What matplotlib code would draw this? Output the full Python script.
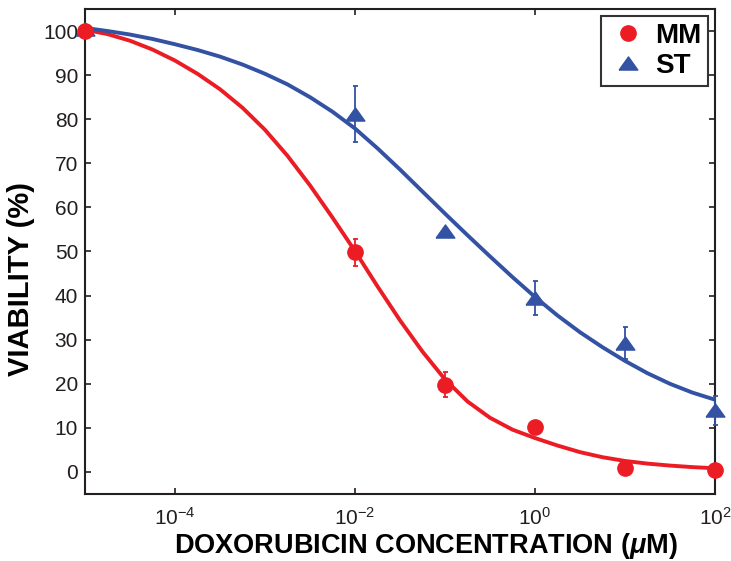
"""Dose-response of MM and ST cells to doxorubicin: viability vs concentration."""

import matplotlib
matplotlib.use("Agg")
import matplotlib.pyplot as plt
from matplotlib.lines import Line2D
from matplotlib.ticker import FixedLocator, LogFormatterMathtext, NullLocator

RED = "#EC1C24"
BLUE = "#3352A4"
# flat triangle, wider than tall like the original marker
TRI = [(-1.0, -0.7), (1.0, -0.7), (0.0, 0.7), (-1.0, -0.7)]

# measured points (uM, % viability, error)
CONC = [1e-5, 1e-2, 1e-1, 1e0, 1e1, 1e2]
MM_VIAB = [100.0, 49.8, 19.8, 10.2, 0.9, 0.5]
MM_ERR = [0.0, 3.0, 2.9, 0.0, 0.0, 0.0]
ST_VIAB = [100.5, 81.2, 54.7, 39.5, 29.3, 14.0]
ST_ERR = [0.0, 6.4, 0.0, 3.8, 3.6, 3.3]

# fitted curves at quarter-decade steps
CURVE_LOG10_CONC = [-5.0, -4.75, -4.5, -4.25, -4.0, -3.75, -3.5, -3.25, -3.0,
                    -2.75, -2.5, -2.25, -2.0, -1.75, -1.5, -1.25, -1.0, -0.75,
                    -0.5, -0.25, 0.0, 0.25, 0.5, 0.75, 1.0, 1.25, 1.5, 1.75, 2.0]
MM_FIT = [100.3, 99.3, 97.8, 95.8, 93.3, 90.3, 86.8, 82.6, 77.6, 71.7, 65.0,
          57.7, 50.1, 42.1, 34.4, 27.3, 21.0, 16.0, 12.3, 9.6, 7.7, 6.0, 4.5,
          3.35, 2.5, 1.9, 1.45, 1.1, 0.85]
ST_FIT = [100.7, 100.0, 99.2, 98.2, 97.0, 95.7, 94.2, 92.4, 90.3, 87.9, 85.0,
          81.7, 77.9, 73.4, 68.6, 63.6, 58.6, 53.7, 48.9, 44.2, 39.7, 35.5,
          31.7, 28.3, 25.2, 22.4, 20.0, 18.0, 16.4]

XTICKS = [1e-4, 1e-2, 1e0, 1e2]
YTICKS = list(range(0, 101, 10))

plt.rcParams["font.family"] = ["Liberation Sans", "DejaVu Sans"]
plt.rcParams["mathtext.fontset"] = "custom"
plt.rcParams["mathtext.rm"] = "Liberation Sans"
plt.rcParams["mathtext.it"] = "Liberation Sans:italic"
plt.rcParams["mathtext.bf"] = "Liberation Sans:bold"
plt.rcParams["mathtext.bfit"] = "Liberation Sans:bold:italic"

fig = plt.figure(figsize=(7.31, 5.61), dpi=100)
ax = fig.add_axes([0.1163, 0.1194, 0.8617, 0.8646])

curve_x = [10 ** v for v in CURVE_LOG10_CONC]
ax.plot(curve_x, MM_FIT, color=RED, lw=2.8, zorder=2)
ax.plot(curve_x, ST_FIT, color=BLUE, lw=2.8, zorder=2)

ax.errorbar(CONC, MM_VIAB, yerr=MM_ERR, fmt="o", color=RED, ms=11,
            elinewidth=1.3, capsize=1.8, capthick=1.3, clip_on=False, zorder=3)
ax.errorbar(CONC, ST_VIAB, yerr=ST_ERR, fmt="none", ecolor=BLUE,
            elinewidth=1.3, capsize=1.8, capthick=1.3, clip_on=False, zorder=3)
ax.plot(CONC, ST_VIAB, ls="none", marker=TRI, color=BLUE, ms=13.5,
        clip_on=False, zorder=3)

ax.set_xscale("log")
ax.set_xlim(1e-5, 1e2)
ax.set_ylim(-5, 105)
ax.xaxis.set_major_locator(FixedLocator(XTICKS))
ax.xaxis.set_major_formatter(LogFormatterMathtext())
ax.xaxis.set_minor_locator(NullLocator())
ax.set_yticks(YTICKS)

for side in ax.spines.values():
    side.set_linewidth(1.5)
    side.set_color("#231F20")
ax.tick_params(direction="in", length=4, width=1.2, top=True, right=True,
               labelsize=15, colors="#231F20")
ax.tick_params(axis="x", pad=9)
ax.tick_params(axis="y", pad=5)

ax.set_xlabel(r"DOXORUBICIN CONCENTRATION ($\boldsymbol{\mu}$M)",
              fontsize=19.5, fontweight="bold")
ax.xaxis.set_label_coords(0.5405, -0.076)
ax.set_ylabel("VIABILITY (%)", fontsize=21, fontweight="bold")
ax.yaxis.set_label_coords(-0.08, 0.444)

handles = [
    Line2D([], [], ls="none", marker="o", color=RED, ms=11),
    Line2D([], [], ls="none", marker=TRI, color=BLUE, ms=13.5),
]
leg = ax.legend(handles, ["MM", "ST"], loc="upper right",
                prop={"weight": "bold", "size": 20}, frameon=True,
                fancybox=False, edgecolor="black", borderpad=0.25,
                handletextpad=0.2, labelspacing=0.15, handlelength=1.5,
                borderaxespad=0, bbox_to_anchor=(0.989, 0.986))
leg.get_frame().set_linewidth(1.5)

fig.savefig("out.png", dpi=100)
